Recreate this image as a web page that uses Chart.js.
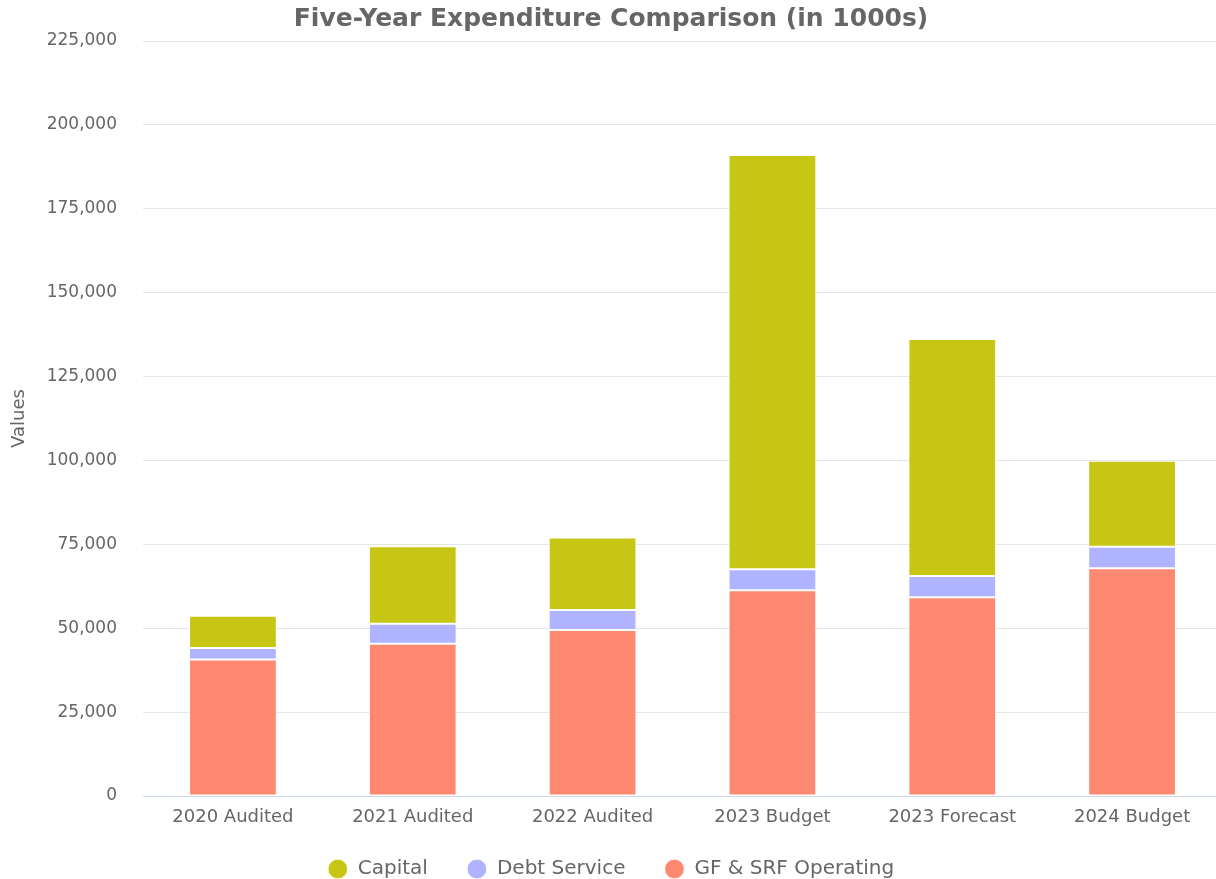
<!DOCTYPE html>
<html>
<head>
<meta charset="utf-8">
<title>Five-Year Expenditure Comparison</title>
<script src="https://cdn.jsdelivr.net/npm/chart.js@4/dist/chart.umd.min.js"></script>
<style>
  html, body { margin: 0; padding: 0; background: #ffffff; overflow: hidden; }
  #wrap { position: relative; width: 1222px; height: 879px; }
</style>
</head>
<body>
<div id="wrap"><canvas id="chart"></canvas></div>
<script>
// Expenditure by fiscal year, in thousands of dollars
const categories = ['2020 Audited', '2021 Audited', '2022 Audited', '2023 Budget', '2023 Forecast', '2024 Budget'];
const gfSrfOperating = [40700, 45400, 49500, 61300, 59200, 67900];
const debtService = [3400, 5900, 5900, 6300, 6400, 6400];
const capital = [9600, 23100, 21600, 123400, 70600, 25600];
const yTicks = [0, 25000, 50000, 75000, 100000, 125000, 150000, 175000, 200000, 225000];

const FONT = "'DejaVu Sans', sans-serif";
const TEXT = '#666666';

// The category labels sit in a short axis box so the legend can sit close below;
// widen the label clip area after layout so the text is not cut off.
const roomForCategoryLabels = {
  id: 'roomForCategoryLabels',
  afterLayout(chart) {
    chart.scales.x.bottom += 20;
  }
};

const ctx = document.getElementById('chart');
new Chart(ctx, {
  type: 'bar',
  data: {
    labels: categories,
    datasets: [
      { label: 'GF & SRF Operating', data: gfSrfOperating, backgroundColor: '#ff8870' },
      { label: 'Debt Service', data: debtService, backgroundColor: '#b0b3ff' },
      { label: 'Capital', data: capital, backgroundColor: '#c8c614' }
    ]
  },
  plugins: [roomForCategoryLabels],
  options: {
    responsive: true,
    maintainAspectRatio: false,
    animation: false,
    datasets: {
      bar: {
        borderColor: '#ffffff',
        borderWidth: 1,
        borderSkipped: false,
        categoryPercentage: 0.8,
        barPercentage: 0.61
      }
    },
    layout: { padding: { left: 0, right: 0, top: 0, bottom: -10 } },
    plugins: {
      title: {
        display: true,
        text: 'Five-Year Expenditure Comparison (in 1000s)',
        color: '#666666',
        font: { family: FONT, size: 25, weight: 'bold' },
        padding: { top: 4, bottom: 7 }
      },
      legend: {
        position: 'bottom',
        reverse: true,
        labels: {
          usePointStyle: true,
          pointStyle: 'circle',
          boxWidth: 20,
          boxHeight: 14,
          padding: 39,
          color: TEXT,
          font: { family: FONT, size: 20 }
        }
      },
      tooltip: { enabled: false }
    },
    scales: {
      x: {
        stacked: true,
        grid: { display: false, drawTicks: false },
        border: { display: true, color: '#ccd6eb', width: 1 },
        ticks: { color: TEXT, font: { family: FONT, size: 18 }, padding: 11, maxRotation: 0 },
        afterFit(scale) { scale.height = 24; }
      },
      y: {
        stacked: true,
        min: 0,
        max: 225000,
        afterBuildTicks(scale) { scale.ticks = yTicks.map(v => ({ value: v })); },
        grid: { color: '#e6e6e6', drawTicks: false },
        border: { display: false },
        ticks: {
          color: TEXT,
          font: { family: FONT, size: 17 },
          padding: 26,
          callback: v => v.toLocaleString('en-US')
        },
        title: {
          display: true,
          text: 'Values',
          color: TEXT,
          font: { family: FONT, size: 18 },
          padding: { top: 9, bottom: 0 }
        },
        afterFit(scale) { scale.width = 143; }
      }
    }
  }
});
</script>
</body>
</html>
